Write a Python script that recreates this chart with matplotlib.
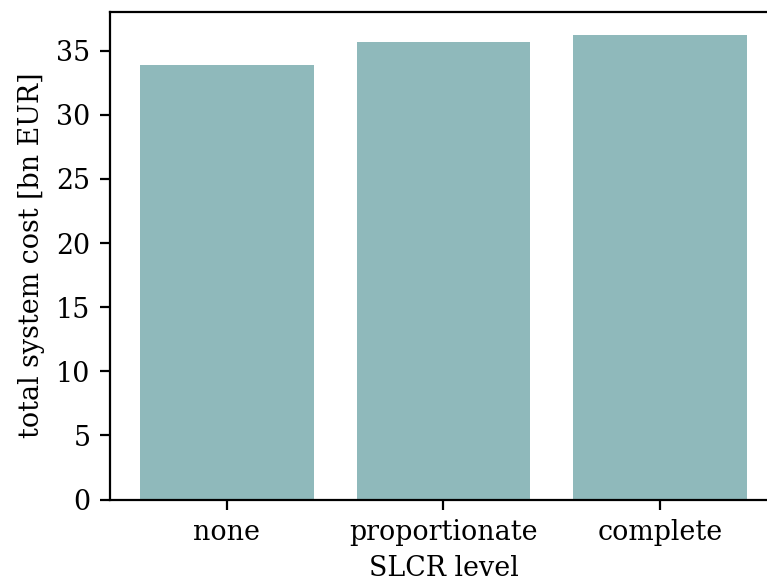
import matplotlib
matplotlib.use("Agg")
import matplotlib.pyplot as plt

levels = ["none", "proportionate", "complete"]
total_cost = [33.88, 35.65, 36.24]  # bn EUR

plt.rcParams["font.family"] = "DejaVu Serif"
plt.rcParams["font.size"] = 9.7

fig = plt.figure(figsize=(767 / 200, 580 / 200), dpi=200)
ax = fig.add_axes([110 / 767, 80.5 / 580, 667 / 767, 488 / 580])

ax.bar(range(len(levels)), total_cost, width=0.8, color="#8fb9bb")
ax.set_xticks(range(len(levels)))
ax.set_xticklabels(levels)
ax.set_xlabel("SLCR level", labelpad=3.2)
ax.set_ylabel("total system cost [bn EUR]")
ax.set_yticks(range(0, 36, 5))

fig.savefig("out.png", dpi=200)
